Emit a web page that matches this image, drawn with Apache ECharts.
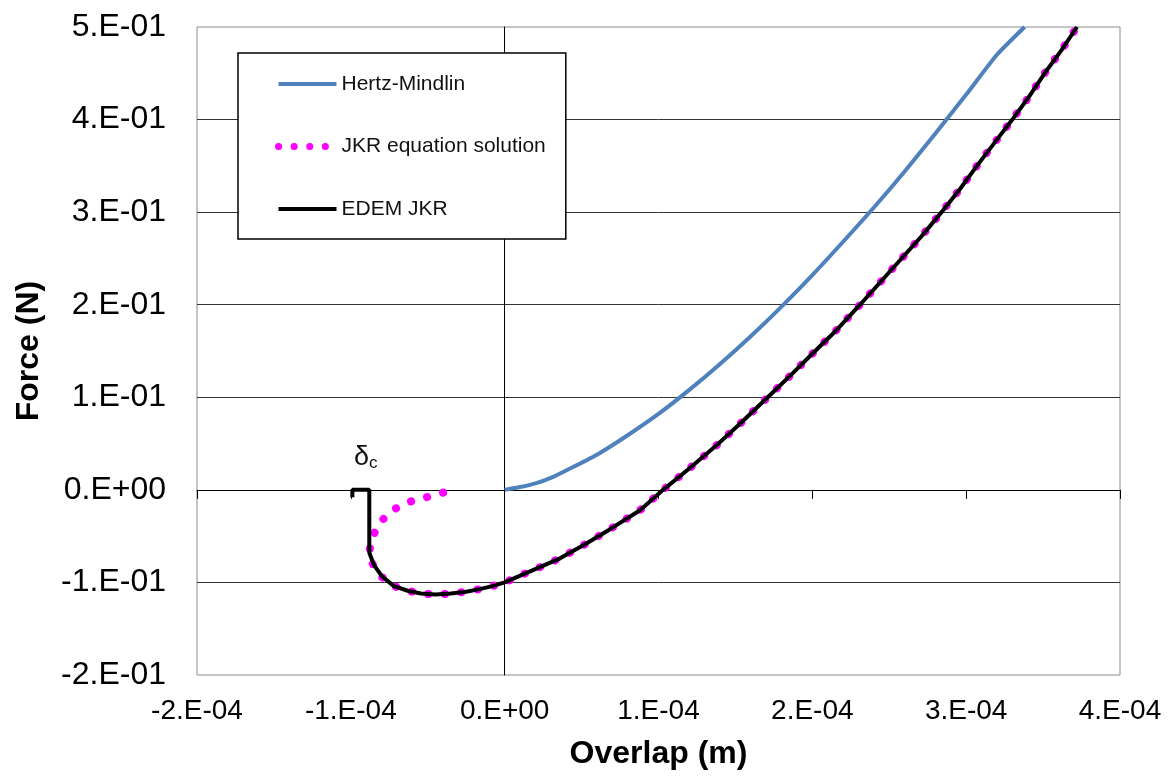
<!DOCTYPE html>
<html>
<head>
    <meta charset="UTF-8">
    <title>Force vs Overlap</title>
    <script src="https://cdn.jsdelivr.net/npm/echarts@6/dist/echarts.min.js"></script>
    <style>
        body { margin: 0; background: #fff; }
        #chart { width: 1169px; height: 776px; }
    </style>
</head>
<body>
    <div id="chart"></div>

    <script>
        // values (overlap in m, force in N)
        var hertzOverlap = [0, 0.1e-4, 0.2e-4, 0.3e-4, 0.4e-4, 0.6e-4, 0.8e-4, 1.0e-4, 1.2e-4, 1.4e-4, 1.6e-4, 1.8e-4,
            2.0e-4, 2.2e-4, 2.4e-4, 2.6e-4, 2.8e-4, 3.0e-4, 3.2e-4, 3.38e-4];
        var hertzForce = [0, 0.003, 0.007, 0.013, 0.021, 0.038, 0.059, 0.082, 0.108, 0.136, 0.166, 0.198,
            0.232, 0.268, 0.305, 0.344, 0.385, 0.427, 0.470, 0.500];

        var jkrOverlap = [-0.40e-4, -0.51e-4, -0.62e-4, -0.73e-4, -0.81e-4, -0.86e-4, -0.885e-4, -0.85e-4,
            -0.80e-4, -0.72e-4, -0.63e-4, -0.545e-4, -0.45e-4, -0.35e-4, -0.25e-4, -0.156e-4, -0.08e-4, 0,
            0.18e-4, 0.36e-4, 0.52e-4, 0.68e-4, 0.88e-4, 1.03e-4, 1.2e-4, 1.37e-4, 1.54e-4, 1.71e-4,
            1.86e-4, 2.0e-4, 2.16e-4, 2.31e-4, 2.44e-4, 2.57e-4, 2.71e-4, 2.84e-4, 2.96e-4, 3.07e-4,
            3.18e-4, 3.30e-4, 3.41e-4, 3.51e-4, 3.62e-4, 3.72e-4];
        var jkrForce = [-0.003, -0.008, -0.013, -0.022, -0.035, -0.051, -0.070, -0.083,
            -0.094, -0.104, -0.109, -0.112, -0.113, -0.112, -0.110, -0.107, -0.104, -0.100,
            -0.087, -0.074, -0.059, -0.043, -0.022, 0, 0.023, 0.047, 0.073, 0.100,
            0.124, 0.147, 0.173, 0.200, 0.224, 0.248, 0.274, 0.300, 0.325, 0.350,
            0.374, 0.400, 0.425, 0.450, 0.475, 0.500];

        var edemOverlap = [-0.99e-4, -0.99e-4, -0.88e-4, -0.88e-4, -0.85e-4, -0.80e-4, -0.72e-4, -0.63e-4,
            -0.545e-4, -0.45e-4, -0.35e-4, -0.25e-4, -0.156e-4, -0.08e-4, 0, 0.18e-4, 0.36e-4, 0.52e-4,
            0.68e-4, 0.88e-4, 1.03e-4, 1.2e-4, 1.37e-4, 1.54e-4, 1.71e-4, 1.86e-4, 2.0e-4, 2.16e-4,
            2.31e-4, 2.44e-4, 2.57e-4, 2.71e-4, 2.84e-4, 2.96e-4, 3.07e-4, 3.18e-4, 3.30e-4, 3.41e-4,
            3.51e-4, 3.62e-4, 3.72e-4];
        var edemForce = [-0.008, 0, 0, -0.068, -0.081, -0.093, -0.104, -0.109,
            -0.112, -0.113, -0.112, -0.110, -0.107, -0.104, -0.100, -0.087, -0.074, -0.059,
            -0.043, -0.022, 0, 0.023, 0.047, 0.073, 0.100, 0.124, 0.147, 0.173,
            0.200, 0.224, 0.248, 0.274, 0.300, 0.325, 0.350, 0.374, 0.400, 0.425,
            0.450, 0.475, 0.500];

        var seriesNames = ['Hertz-Mindlin', 'JKR equation solution', 'EDEM JKR'];

        function pairs(xs, ys) {
            return xs.map(function (x, i) { return [x, ys[i]]; });
        }

        // Excel style "1.E-04"
        function sci(v) {
            if (Math.abs(v) < 1e-12) return '0.E+00';
            var s = v.toExponential(0).split('e');
            var exp = parseInt(s[1], 10);
            var e = Math.abs(exp);
            return s[0] + '.E' + (exp < 0 ? '-' : '+') + (e < 10 ? '0' + e : e);
        }

        var blueLine = {color: '#4f81bd', width: 4};
        var pinkLine = {color: '#ff00ff', width: 8, type: [0.1, 16.5], cap: 'round'};
        var blackLine = {color: '#000', width: 4};
        var noSymbol = {opacity: 0, borderWidth: 0};

        var font = 'Arial, "Liberation Sans", sans-serif';
        var chart = echarts.init(document.getElementById('chart'), null, {renderer: 'canvas'});

        chart.setOption({
            animation: false,
            backgroundColor: '#fff',
            textStyle: {fontFamily: font},
            grid: {
                left: 197, right: 49, top: 27, bottom: 101,
                show: true, borderColor: '#8c8c8c', borderWidth: 1
            },
            legend: {
                data: [
                    {name: seriesNames[0], lineStyle: blueLine, itemStyle: noSymbol},
                    {name: seriesNames[1], lineStyle: {color: '#ff00ff', width: 7, type: [0.1, 15.5], cap: 'round'}, itemStyle: noSymbol},
                    {name: seriesNames[2], lineStyle: blackLine, itemStyle: noSymbol}
                ],
                orient: 'vertical',
                left: 238, top: 53,
                padding: [19, 20, 18, 37],
                itemWidth: 58, itemHeight: 24, itemGap: 38.5,
                backgroundColor: '#fff',
                borderColor: '#000', borderWidth: 1.5,
                textStyle: {fontSize: 21, color: '#111', fontFamily: font, lineHeight: 24},
                z: 10
            },
            xAxis: [{
                type: 'value',
                min: -2e-4, max: 4e-4, interval: 1e-4,
                position: 'bottom',
                axisLine: {show: false, onZero: false},
                axisTick: {show: false},
                splitLine: {show: false},
                axisLabel: {fontSize: 28, color: '#000', margin: 22, formatter: sci},
                name: 'Overlap (m)',
                nameLocation: 'middle',
                nameGap: 63,
                nameTextStyle: {fontSize: 32, fontWeight: 'bold', color: '#000'}
            }, {
                type: 'value',
                min: -2e-4, max: 4e-4, interval: 1e-4,
                position: 'top',
                axisLine: {show: true, onZero: true, onZeroAxisIndex: 0, lineStyle: {color: '#000', width: 1}},
                axisTick: {show: true, inside: true, length: 9, lineStyle: {color: '#000'}},
                axisLabel: {show: false},
                splitLine: {show: false}
            }],
            yAxis: [{
                type: 'value',
                min: -0.2, max: 0.5, interval: 0.1,
                position: 'left',
                axisLine: {show: false, onZero: false},
                axisTick: {show: false},
                splitLine: {show: true, showMinLine: false, showMaxLine: false, lineStyle: {color: '#333', width: 1}},
                axisLabel: {fontSize: 32, color: '#000', margin: 31, formatter: sci},
                name: 'Force (N)',
                nameLocation: 'middle',
                nameGap: 152,
                nameTextStyle: {fontSize: 32, fontWeight: 'bold', color: '#000'}
            }, {
                type: 'value',
                min: -0.2, max: 0.5, interval: 0.1,
                position: 'right',
                axisLine: {show: true, onZero: true, onZeroAxisIndex: 0, lineStyle: {color: '#000', width: 1}},
                axisTick: {show: false},
                axisLabel: {show: false},
                splitLine: {show: false}
            }],
            graphic: [{
                type: 'text',
                left: 354, top: 444,
                style: {
                    text: '{d|δ}{c|c}',
                    rich: {
                        d: {fontSize: 27, fill: '#111', fontFamily: font},
                        c: {fontSize: 17, fill: '#111', fontFamily: font, verticalAlign: 'bottom', padding: [12, 0, 0, 0]}
                    }
                }
            }],
            series: [{
                name: seriesNames[0],
                type: 'line',
                symbol: 'none',
                smooth: 0.2,
                data: pairs(hertzOverlap, hertzForce),
                lineStyle: blueLine,
                itemStyle: {color: '#4f81bd'}
            }, {
                name: seriesNames[1],
                type: 'line',
                symbol: 'none',
                data: pairs(jkrOverlap, jkrForce),
                lineStyle: pinkLine,
                itemStyle: {color: '#ff00ff'}
            }, {
                name: seriesNames[2],
                type: 'line',
                symbol: 'none',
                data: pairs(edemOverlap, edemForce),
                lineStyle: blackLine,
                itemStyle: {color: '#000'}
            }]
        });
    </script>
</body>
</html>
